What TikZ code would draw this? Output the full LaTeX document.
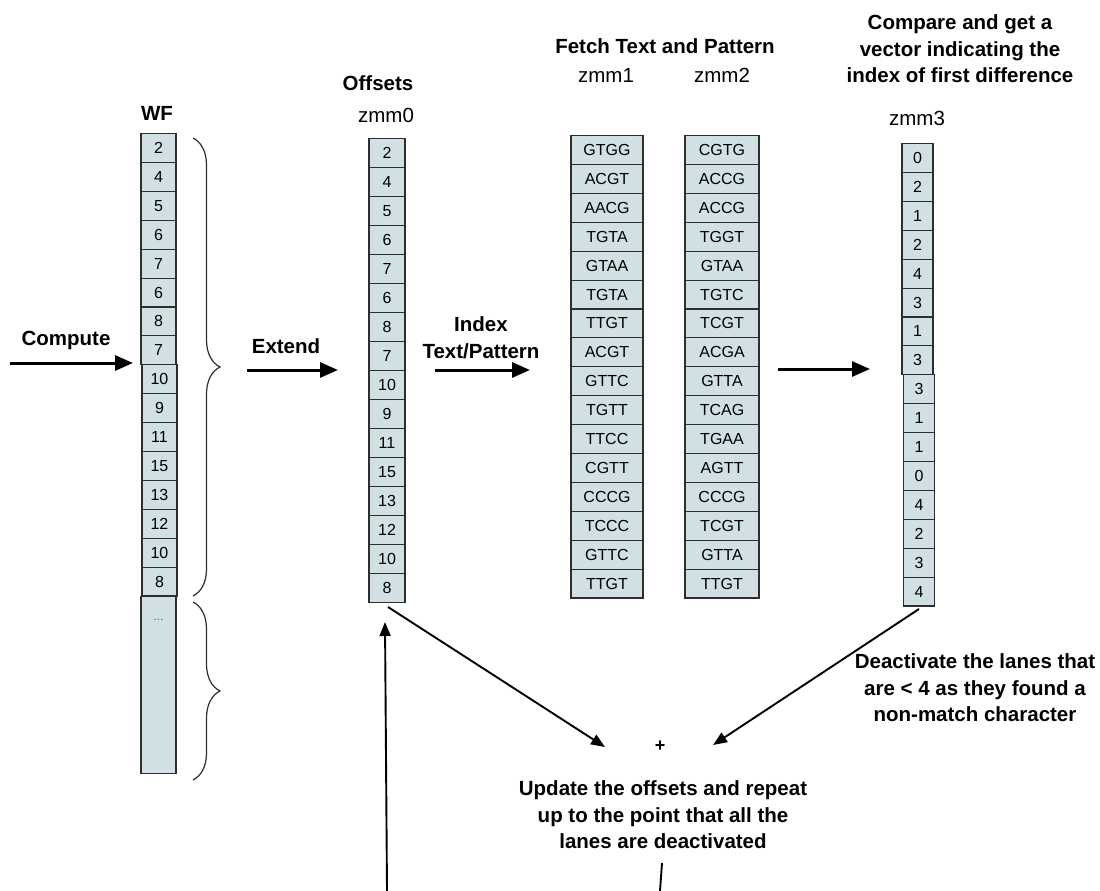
\documentclass[tikz,border=0pt]{standalone}
\usepackage{fontspec}
\setmainfont{Liberation Sans}
\usetikzlibrary{arrows.meta,decorations.pathreplacing}
\definecolor{cellfill}{HTML}{D0E0E3}
\definecolor{cellline}{HTML}{2E2E2E}
\tikzset{
  cell/.style={draw=cellline, fill=cellfill, line width=1.1pt, inner sep=0pt,
    minimum height=28.9pt, anchor=north, font=\fontsize{16}{18}\selectfont},
  lbl/.style={font=\fontsize{20.5}{26.5}\selectfont\bfseries, align=center, inner sep=0pt},
  reg/.style={font=\fontsize{20.5}{24}\selectfont, inner sep=0pt},
  bigarrow/.style={line width=3pt, -{Triangle[length=18pt,width=15pt]}},
  thinarrow/.style={line width=1.9pt, -{Triangle[length=14pt,width=11pt]}},
  brc/.style={decorate, decoration={brace, amplitude=27pt}, line width=1.2pt, draw=cellline},
}
\begin{document}
\begin{tikzpicture}[x=1pt, y=-1pt]
\useasboundingbox (0,0) rectangle (1100,891);

% ---------------- WF column
\node[lbl] (wflabel) at (157,113) {WF};
\foreach \v [count=\i from 0] in {2,4,5,6,7,6,8,7}
  \node[cell, minimum width=35pt] (wfa\i) at (158.5,{133+\i*28.9}) {\v};
\foreach \v [count=\i from 0] in {10,9,11,15,13,12,10,8}
  \node[cell, minimum width=35pt] (wfb\i) at (159.5,{364.2+\i*28.9}) {\v};
\node[cell, minimum width=35pt, minimum height=177pt] (wfrest) at (158.5,596) {};
\node[font=\fontsize{12}{14}\selectfont, text=black!60, inner sep=0pt] (wfdots) at (158.5,620) {...};

% braces
\draw[brc] (193,138) -- (193,596);
\draw[brc] (193,602) -- (193,780);

% ---------------- zmm0
\node[lbl] (offsets) at (378,83) {Offsets};
\node[reg] (zmm0lbl) at (386,115) {zmm0};
\foreach \v [count=\i from 0] in {2,4,5,6,7,6,8,7,10,9,11,15,13,12,10,8}
  \node[cell, minimum width=36pt, minimum height=29pt] (za\i) at (387,{138+\i*29}) {\v};

% ---------------- zmm1 / zmm2
\node[lbl] (fetch) at (665,46) {Fetch Text and Pattern};
\node[reg] (zmm1lbl) at (606,75) {zmm1};
\node[reg] (zmm2lbl) at (722,75) {zmm2};
\foreach \v [count=\i from 0] in {GTGG,ACGT,AACG,TGTA,GTAA,TGTA,TTGT,ACGT,GTTC,TGTT,TTCC,CGTT,CCCG,TCCC,GTTC,TTGT}
  \node[cell, minimum width=72pt] (zb\i) at (607,{135+\i*28.9}) {\v};
\foreach \v [count=\i from 0] in {CGTG,ACCG,ACCG,TGGT,GTAA,TGTC,TCGT,ACGA,GTTA,TCAG,TGAA,AGTT,CCCG,TCGT,GTTA,TTGT}
  \node[cell, minimum width=74pt] (zc\i) at (722,{135+\i*28.9}) {\v};

% ---------------- zmm3
\node[lbl] (compare) at (960,49) {Compare and get a\\vector indicating the\\index of first difference};
\node[reg] (zmm3lbl) at (917,118) {zmm3};
\foreach \v [count=\i from 0] in {0,2,1,2,4,3,1,3}
  \node[cell, minimum width=31pt] (zda\i) at (917.5,{143+\i*28.9}) {\v};
\foreach \v [count=\i from 0] in {3,1,1,0,4,2,3,4}
  \node[cell, minimum width=31pt] (zdb\i) at (919,{374.2+\i*28.9}) {\v};

% ---------------- horizontal arrows
\coordinate (cs) at (10,363);  \coordinate (ce) at (133,363);
\draw[bigarrow] (cs) -- (ce);
\node[lbl] (computelbl) at (66,340) {Compute};

\coordinate (es) at (247,370); \coordinate (ee) at (338,370);
\draw[bigarrow] (es) -- (ee);
\node[lbl] (extendlbl) at (286,346) {Extend};

\coordinate (is) at (435,370); \coordinate (ie) at (530,370);
\draw[bigarrow] (is) -- (ie);
\node[lbl] (indexlbl) at (481,338) {Index\\Text/Pattern};

\coordinate (fs) at (778,369); \coordinate (fe) at (870,369);
\draw[bigarrow] (fs) -- (fe);

% ---------------- bottom part
\node[font=\fontsize{18}{20}\selectfont\bfseries, inner sep=0pt] (plus) at (660,746) {+};
\coordinate (d1s) at (388,607); \coordinate (d1e) at (605,747);
\draw[thinarrow] (d1s) -- (d1e);
\coordinate (d2s) at (919,609); \coordinate (d2e) at (713,745);
\draw[thinarrow] (d2s) -- (d2e);

\node[lbl] (deact) at (975,688) {Deactivate the lanes that\\are < 4 as they found a\\non-match character};
\node[lbl] (update) at (663,815) {Update the offsets and repeat\\up to the point that all the\\lanes are deactivated};

\coordinate (us) at (387,891); \coordinate (ue) at (385,622);
\draw[thinarrow] (us) -- (ue);
\coordinate (ls) at (662,863); \coordinate (le) at (660,891);
\draw[line width=1.9pt] (ls) -- (le);
\end{tikzpicture}
\end{document}
